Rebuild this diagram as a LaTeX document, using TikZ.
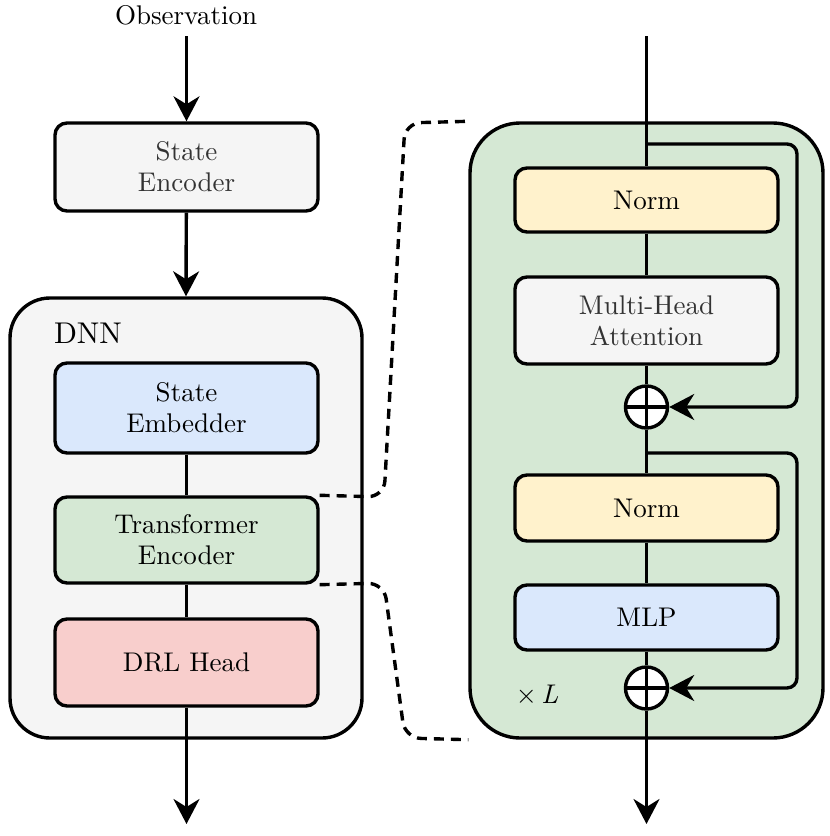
\documentclass[tikz,border=0pt]{standalone}
\usepackage{fontspec}
\setmainfont{lmroman10-regular.otf}[BoldFont=lmroman10-bold.otf,ItalicFont=lmroman10-italic.otf]
\usetikzlibrary{arrows.meta}

\definecolor{grayfill}{HTML}{F5F5F5}
\definecolor{grayfont}{HTML}{333333}
\definecolor{bluefill}{HTML}{DAE8FC}
\definecolor{greenfill}{HTML}{D5E8D4}
\definecolor{redfill}{HTML}{F8CECC}
\definecolor{yellowfill}{HTML}{FFF2CC}

\begin{document}
\begin{tikzpicture}[x=1pt,y=-1pt,line width=3.4pt,
		font=\fontsize{27}{31}\selectfont,
		block/.style={draw,rounded corners=12pt,minimum width=263pt,inner sep=0pt,align=center},
		outer/.style={draw,rounded corners=#1,inner sep=0pt},
		adder/.style={draw,circle,fill=white,minimum size=42pt,inner sep=0pt,
			path picture={\draw (path picture bounding box.north) -- (path picture bounding box.south);
				\draw (path picture bounding box.west) -- (path picture bounding box.east);}},
		arr/.style={-{Stealth[length=25pt,width=26pt,inset=8pt]}}]
			\useasboundingbox (0,0) rectangle (830,836);

			% left column
			\node (obs) at (186,15) {Observation};
			\coordinate (in1) at (186.5,36);
			\node[block,fill=grayfill,text=grayfont,minimum height=88pt] (enc) at (186.5,167) {State\\Encoder};
			\node[outer=40pt,fill=grayfill,minimum width=352pt,minimum height=440pt] (dnn) at (186,518) {};
			\node[font=\fontsize{30}{34}\selectfont] (dnnlbl) at (88,333) {DNN};
			\node[block,fill=bluefill,minimum height=90pt] (emb) at (186.5,408) {State\\Embedder};
			\node[block,fill=greenfill,minimum height=86pt] (trf) at (186.5,540) {Transformer\\Encoder};
			\node[block,fill=redfill,minimum height=87pt] (head) at (186.5,662.5) {DRL Head};
			\coordinate (out1) at (186.5,824);

			\draw[arr] (in1) -- (enc);
			\draw[arr] (enc) -- (dnn.north);
			\draw (emb) -- (trf);
			\draw (trf) -- (head);
			\draw[arr] (head) -- (out1);

			% encoder block
			\node[outer=50pt,fill=greenfill,minimum width=353pt,minimum height=615pt] (blk) at (646.5,430.5) {};
			\coordinate (in2) at (646.5,36);
			\coordinate (out2) at (646.5,824);
			\node[block,fill=yellowfill,minimum height=64pt] (norm1) at (646.5,200) {Norm};
			\node[block,fill=grayfill,text=grayfont,minimum height=87pt] (mha) at (646.5,320.5) {Multi-Head\\Attention};
			\node[adder] (add1) at (646.5,407) {};
			\node[block,fill=yellowfill,minimum height=66pt] (norm2) at (646.5,508) {Norm};
			\node[block,fill=bluefill,minimum height=65pt] (mlp) at (646.5,617.5) {MLP};
			\node[adder] (add2) at (646.5,688) {};
			\node (rep) at (537,694) {×\,\textit{L}};
			\coordinate (split1) at (646.5,144);
			\coordinate (split2) at (646.5,453);

			\draw (in2) -- (norm1);
			\draw (norm1) -- (mha);
			\draw (mha) -- (add1);
			\draw (add1) -- (norm2);
			\draw (norm2) -- (mlp);
			\draw (mlp) -- (add2);
			\draw[arr] (add2) -- (out2);
			\draw[arr,rounded corners=10pt] (split1) -- (797,144) -- (797,407) -- (add1.east);
			\draw[arr,rounded corners=10pt] (split2) -- (797,453) -- (797,688) -- (add2.east);

			% zoom lines
			\draw[dash pattern=on 10pt off 7pt,rounded corners=16pt] (trf.north east) -- (384,497) -- (405,123) -- (blk.north west);
			\draw[dash pattern=on 10pt off 7pt,rounded corners=16pt] (trf.south east) -- (384,583) -- (405,738) -- (blk.south west);
		\end{tikzpicture}
\end{document}
